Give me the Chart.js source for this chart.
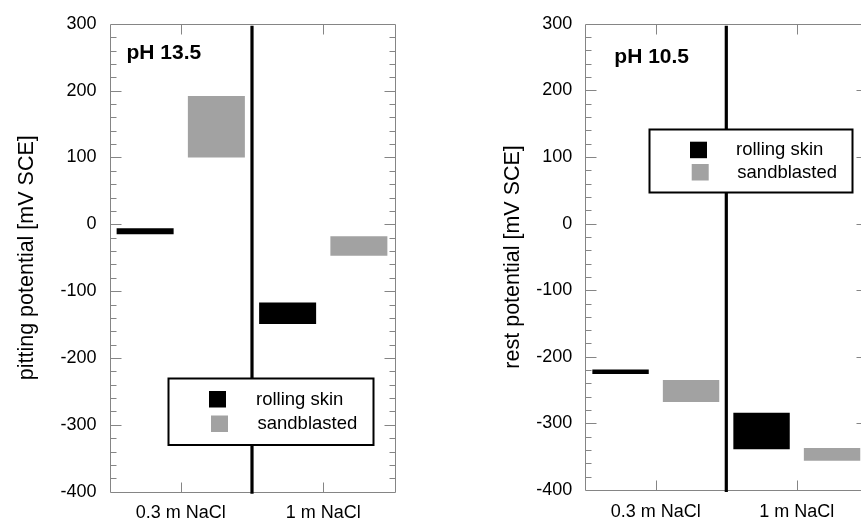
<!DOCTYPE html>
<html><head><meta charset="utf-8">
<script src="https://cdn.jsdelivr.net/npm/chart.js@4/dist/chart.umd.min.js"></script>
<style>
html,body{margin:0;padding:0;background:#fff;overflow:hidden;width:861px;height:524px;}
#c1{position:absolute;left:0;top:0;}
#c2{position:absolute;left:430px;top:0;}
</style></head><body>
<canvas id="c1" width="430" height="524"></canvas>
<canvas id="c2" width="450" height="524"></canvas>
<script>
// ---- data ----
const categories = ['0.3 m NaCl', '1 m NaCl'];
const seriesNames = ['rolling skin', 'sandblasted'];
const yTickValues = [300, 200, 100, 0, -100, -200, -300, -400];
// pH 13.5 : pitting potential ranges [low, high] in mV SCE
const pitRolling = [[-15, -6], [-149, -117]];
const pitSandblasted = [[100, 192], [-47, -18]];
// pH 10.5 : rest potential ranges [low, high] in mV SCE
const restRolling = [[-226, -219], [-339, -284]];
const restSandblasted = [[-268, -235], [-356, -337]];

const FONT = '"Liberation Sans", Arial, Helvetica, sans-serif';
const colors = ['#000000', '#a2a2a2'];

const decoPlugin = {
  id: 'deco',
  beforeDatasetsDraw(chart) {
    const ctx = chart.ctx, a = chart.chartArea;
    const ys = chart.scales.y, xs = chart.scales.x;
    ctx.save();
    ctx.strokeStyle = '#858585';
    ctx.lineWidth = 1;
    const L = Math.round(a.left) + 0.5, R = Math.round(a.right) + 0.5;
    const T = Math.round(a.top) + 0.5, B = Math.round(a.bottom) + 0.5;
    ctx.beginPath();
    ctx.rect(L, T, R - L, B - T);
    ctx.stroke();
    ctx.beginPath();
    for (let v = ys.min + 20; v < ys.max; v += 20) {
      const y = Math.round(ys.getPixelForValue(v)) + 0.5;
      const len = (v % 100 === 0) ? 11 : 6;
      ctx.moveTo(L, y); ctx.lineTo(L + len, y);
      ctx.moveTo(R, y); ctx.lineTo(R - len, y);
    }
    for (let i = 0; i < categories.length; i++) {
      const x = Math.round(xs.getPixelForValue(i)) + 0.5;
      ctx.moveTo(x, T); ctx.lineTo(x, T + 10);
      ctx.moveTo(x, B); ctx.lineTo(x, B - 10);
    }
    ctx.stroke();
    ctx.restore();
  },
  afterDatasetsDraw(chart, args, opts) {
    const ctx = chart.ctx, a = chart.chartArea;
    const xs = chart.scales.x;
    ctx.save();
    // divider between categories
    const xm = (xs.getPixelForValue(0) + xs.getPixelForValue(1)) / 2;
    ctx.strokeStyle = '#000';
    ctx.lineWidth = 3.2;
    ctx.beginPath();
    ctx.moveTo(xm, a.top + 2);
    ctx.lineTo(xm, a.bottom + 2);
    ctx.stroke();
    // pH label
    ctx.fillStyle = '#000';
    ctx.font = 'bold 21px ' + FONT;
    ctx.textBaseline = 'alphabetic';
    ctx.textAlign = 'left';
    ctx.fillText(opts.label, opts.labelX, opts.labelY);
    // legend box
    const b = opts.box;
    ctx.fillStyle = '#fff';
    ctx.fillRect(b[0], b[1], b[2] - b[0], b[3] - b[1]);
    ctx.strokeStyle = '#000';
    ctx.lineWidth = 2;
    ctx.strokeRect(b[0], b[1], b[2] - b[0], b[3] - b[1]);
    ctx.font = '18.5px ' + FONT;
    ctx.textBaseline = 'middle';
    chart.data.datasets.forEach((ds, i) => {
      const it = opts.items[i];
      ctx.fillStyle = ds.backgroundColor;
      ctx.fillRect(it[0], it[1], 17, 16.5);
      ctx.fillStyle = '#000';
      ctx.fillText(ds.label, it[2], it[1] + 8.5);
    });
    ctx.restore();
  }
};

function makeChart(id, rolling, sand, title, geom) {
  return new Chart(document.getElementById(id), {
    type: 'bar',
    data: {
      labels: categories,
      datasets: [
        { label: seriesNames[0], data: rolling, backgroundColor: colors[0], borderWidth: 0 },
        { label: seriesNames[1], data: sand, backgroundColor: colors[1], borderWidth: 0 }
      ]
    },
    options: {
      responsive: false,
      animation: false,
      categoryPercentage: 1.0,
      barPercentage: 0.8,
      layout: { padding: { top: geom.top, right: geom.right, left: 0, bottom: 0 } },
      plugins: {
        legend: { display: false },
        tooltip: { enabled: false },
        deco: geom.deco
      },
      scales: {
        x: {
          type: 'category',
          offset: true,
          grid: { display: false, drawTicks: false },
          border: { display: false },
          ticks: { color: '#000', font: { family: FONT, size: 18 }, padding: 11, maxRotation: 0 },
          afterFit(s) { s.height = geom.xh; }
        },
        y: {
          min: -400, max: 300,
          grid: { display: false, drawTicks: false },
          border: { display: false },
          afterBuildTicks(s) { s.ticks = yTickValues.map(v => ({ value: v })); },
          ticks: { color: '#000', font: { family: FONT, size: 18 }, padding: 13 },
          title: { display: true, text: title, color: '#000', font: { family: FONT, size: 21.5 }, padding: { top: geom.tpad, bottom: 0 } },
          afterFit(s) { s.width = geom.yw; }
        }
      }
    },
    plugins: [decoPlugin]
  });
}

makeChart('c1', pitRolling, pitSandblasted, 'pitting potential [mV SCE]', {
  top: 18.3, right: 35.5, xh: 32.3, yw: 109.5, tpad: 14,
  deco: { label: 'pH 13.5', labelX: 126.5, labelY: 58.5,
          box: [168.5, 378.5, 373.5, 445],
          items: [[209, 391, 256], [211, 415.5, 257.5]] }
});
makeChart('c2', restRolling, restSandblasted, 'rest potential [mV SCE]', {
  top: 21.7, right: 12.7, xh: 34, yw: 155.3, tpad: 70,
  deco: { label: 'pH 10.5', labelX: 184.3, labelY: 63,
          box: [219.5, 129.5, 422.5, 192.5],
          items: [[260, 141.7, 306], [261.7, 164, 307.3]] }
});
</script>
</body></html>
